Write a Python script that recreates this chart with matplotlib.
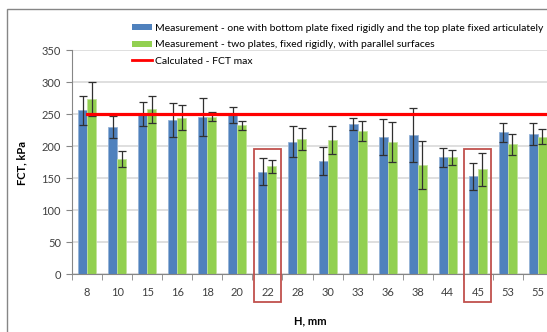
import matplotlib
matplotlib.use('Agg')
import matplotlib.pyplot as plt
from matplotlib.patches import Rectangle, Patch
from matplotlib.lines import Line2D
import numpy as np

plt.rcParams['font.family'] = ['Lato', 'DejaVu Sans']

# Data
h_mm = ['8', '10', '15', '16', '18', '20', '22', '28', '30', '33', '36', '38', '44', '45', '53', '55']
fct_articulated = [256, 230, 251, 241, 246, 249, 160, 207, 177, 235, 214, 218, 183, 153, 222, 219]
err_articulated = [22, 17, 19, 26, 30, 12, 21, 24, 22, 9, 28, 42, 15, 21, 15, 17]
fct_rigid = [274, 180, 258, 245, 246, 233, 169, 211, 210, 224, 207, 171, 183, 164, 203, 215]
err_rigid = [26, 13, 21, 19, 7, 7, 10, 17, 22, 15, 31, 37, 12, 26, 16, 12]
fct_max = 250
highlighted = ['22', '45']

labels = ['Measurement - one with bottom plate fixed rigidly and the top plate fixed articulately',
          'Measurement - two plates, fixed rigidly, with parallel surfaces',
          'Calculated - FCT max']

blue = '#4F81BD'
green = '#92D050'
W, H = 547, 332

fig = plt.figure(figsize=(W / 100, H / 100), dpi=100)
ax = fig.add_axes([72 / W, 1 - 274.3 / H, (553 - 72) / W, (274.3 - 50.3) / H])

x = np.arange(len(h_mm))
bw = 0.3
ax.bar(x - bw / 2, fct_articulated, bw, color=blue, edgecolor='#95B3D7', linewidth=0.6, zorder=2)
ax.bar(x + bw / 2, fct_rigid, bw, color=green, edgecolor='#C3E39A', linewidth=0.6, zorder=2)
ax.errorbar(x - bw / 2, fct_articulated, yerr=err_articulated, fmt='none', ecolor='#303030',
            elinewidth=0.9, capsize=3, capthick=0.9, zorder=3)
ax.errorbar(x + bw / 2, fct_rigid, yerr=err_rigid, fmt='none', ecolor='#303030',
            elinewidth=0.9, capsize=3, capthick=0.9, zorder=3)
ax.plot([x[0], x[-1] + 0.5], [fct_max, fct_max], color='#FF0000', linewidth=2.3, zorder=4)

# red boxes around highlighted categories
for lab in highlighted:
    i = h_mm.index(lab)
    ax.add_patch(Rectangle((i - 0.45, -42.8), 0.9, 42.8 + 195.8, fill=False,
                           edgecolor='#C0504D', linewidth=1.3, clip_on=False, zorder=5))

ax.set_xlim(-0.5, len(h_mm) - 0.5)
ax.set_ylim(0, 350)
ax.set_yticks(np.arange(0, 351, 50))
ax.yaxis.grid(True, color='#D9D9D9', linewidth=1.2, zorder=0)
ax.set_axisbelow(True)

ax.set_xticks(x)
ax.set_xticklabels(h_mm)
ax.set_xticks(np.arange(-0.5, len(h_mm), 1), minor=True)
ax.tick_params(axis='x', which='major', length=0, pad=9, labelsize=8, labelcolor='#404040')
ax.tick_params(axis='x', which='minor', length=4, color='#868686', direction='out')
ax.tick_params(axis='y', length=4, color='#868686', labelsize=8, labelcolor='#404040', pad=4)

for s in ['top', 'right']:
    ax.spines[s].set_visible(False)
ax.spines['left'].set_color('#868686')
ax.spines['bottom'].set_color('#868686')

fig.text(22 / W, 1 - 163 / H, 'FCT, kPa', rotation=90, ha='center', va='center',
         fontsize=8, fontweight='bold', color='#000000')
fig.text(310 / W, 1 - 321 / H, 'H, mm', ha='center', va='center',
         fontsize=8, fontweight='bold', color='#000000')

handles = [Patch(facecolor=blue, edgecolor='none'),
           Patch(facecolor=green, edgecolor='none'),
           Line2D([], [], color='#FF0000', linewidth=2)]
fig.legend(handles, labels, loc='upper left', bbox_to_anchor=(132 / W, 1 - 24 / H),
           frameon=False, fontsize=7.5, handlelength=1.9, handleheight=0.5,
           handletextpad=0.3, labelspacing=0.7, borderpad=0, borderaxespad=0)

# outer chart frame (cut by the image edges)
fig.patches.append(Rectangle((7 / W, -0.1), 1.1, 1 - 9 / H + 0.1, transform=fig.transFigure,
                             fill=False, edgecolor='#868686', linewidth=1))

fig.savefig('out.png', dpi=100)
